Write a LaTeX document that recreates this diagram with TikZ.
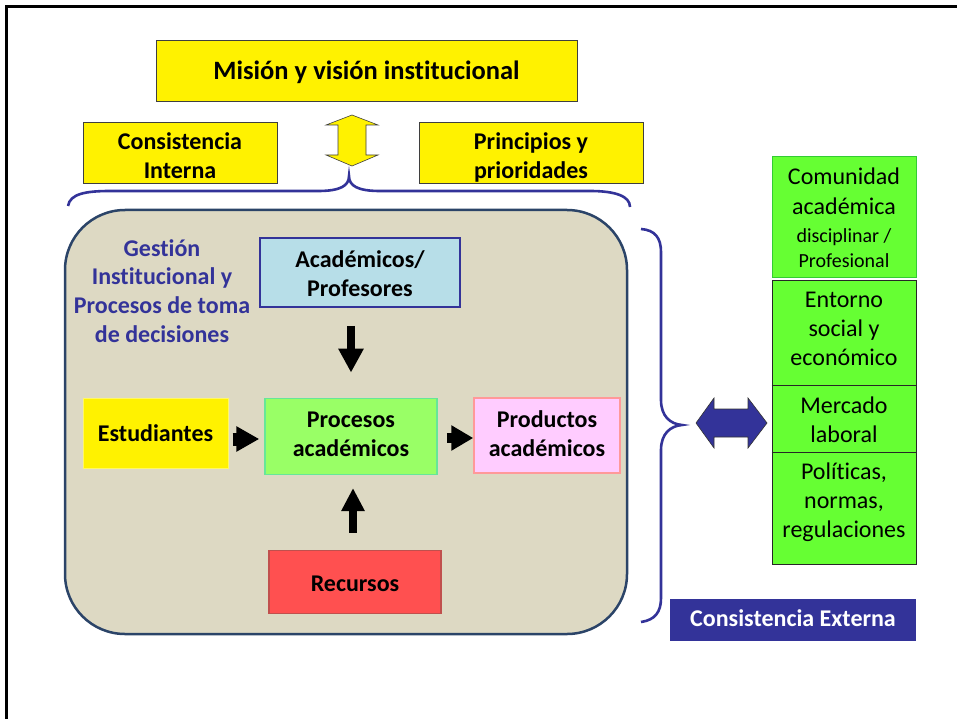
\documentclass[tikz,border=0pt]{standalone}
\usepackage{fontspec}
\setmainfont[Ligatures=NoCommon]{Carlito}
\usetikzlibrary{arrows.meta}
\definecolor{navy}{HTML}{333399}
\definecolor{beige}{HTML}{DDD9C3}
\definecolor{frameblue}{HTML}{2B4468}
\definecolor{lblue}{HTML}{B7DEE8}
\definecolor{lgreen}{HTML}{99FF66}
\definecolor{lgreenb}{HTML}{66E699}
\definecolor{pink}{HTML}{FFCCFF}
\definecolor{pinkb}{HTML}{FF9999}
\definecolor{red1}{HTML}{FF5050}
\definecolor{red1b}{HTML}{C0504D}
\definecolor{vgreen}{HTML}{66FF33}
\definecolor{vgreenb}{HTML}{33CC33}
\definecolor{ybord}{HTML}{3F3F3F}
\newcommand\tbx[2]{\raisebox{-#1}[\height][\depth]{\begin{tabular}{@{}c@{}}#2\end{tabular}}}
\tikzset{
  bx/.style={inner sep=0pt, font=\fontsize{24}{29}\selectfont\bfseries},
  rx/.style={inner sep=0pt, font=\fontsize{24}{29}\selectfont},
  brace/.style={draw=navy, line width=2.6pt}
}
\begin{document}
\begin{tikzpicture}[x=1pt,y=-1pt]
\useasboundingbox (0,0) rectangle (957,719);
\fill[white] (0,0) rectangle (957,719);
% slide frame
\draw[line width=2.5pt] (6.5,719) -- (6.5,6.5) -- (957,6.5);

% top boxes
\node[bx, fill=yellow, draw=ybord, line width=0.8pt, minimum width=421pt, minimum height=61pt,
  font=\fontsize{26.5}{32}\selectfont\bfseries] (mision) at (366.5,70.5) {\tbx{3pt}{Misión y visión institucional}};
\node[bx, fill=yellow, draw=ybord, line width=0.8pt, minimum width=194pt, minimum height=61pt] (cint) at (180,152.5) {\tbx{5.5pt}{Consistencia\\Interna}};
\node[bx, fill=yellow, draw=ybord, line width=0.8pt, minimum width=224pt, minimum height=61pt] (prin) at (531,153) {\tbx{4.8pt}{Principios y\\prioridades}};

% yellow double arrow
\filldraw[fill=yellow, draw=ybord, line width=0.6pt]
  (352,115) -- (378,125) -- (366,125) -- (366,155) -- (378,155) -- (352,166)
  -- (326,155) -- (338,155) -- (338,125) -- (326,125) -- cycle;

% top brace
\draw[brace] (68,206) .. controls (70,194) and (85,191) .. (110,191) -- (318,191)
  .. controls (340,191) and (349,186) .. (349,176)
  .. controls (349,186) and (358,191) .. (380,191) -- (590,191)
  .. controls (615,191) and (630,196) .. (630,207);

% big rounded container
\node[draw=frameblue, fill=beige, line width=2.5pt, rounded corners=60pt,
  minimum width=562pt, minimum height=424pt, inner sep=0pt] (cont) at (346,422) {};

\node[bx, text=navy, font=\fontsize{24}{28.7}\selectfont\bfseries] (gest) at (162,292.5) {\tbx{1pt}{Gestión\\Institucional y\\Procesos de toma\\de decisiones}};

\node[bx, fill=lblue, draw=navy, line width=1.5pt, minimum width=200pt, minimum height=69pt] (acad) at (360,272.5) {\tbx{3.5pt}{Académicos/\\Profesores}};
\node[bx, fill=yellow, draw=yellow!60!white, line width=1pt, minimum width=145pt, minimum height=70pt] (est) at (155.5,433.3) {\tbx{2.8pt}{Estudiantes}};
\node[bx, fill=lgreen, draw=lgreenb, line width=1.5pt, minimum width=172pt, minimum height=76pt] (proc) at (351,436.3) {\tbx{0pt}{Procesos\\académicos}};
\node[bx, fill=pink, draw=pinkb, line width=1.5pt, minimum width=146pt, minimum height=75pt] (prod) at (547,435.5) {\tbx{0.5pt}{Productos\\académicos}};
\node[bx, fill=red1, draw=red1b, line width=1.5pt, minimum width=172pt, minimum height=63pt] (rec) at (355,582) {\tbx{4pt}{Recursos}};

% block arrows
\draw[line width=7.5pt, -{Triangle[width=24pt,length=24pt]}, shorten <=18pt, shorten >=25pt]
  (acad.south -| proc.north) -- (proc.north);
\draw[line width=13pt, -{Triangle[width=24pt,length=23pt]}, shorten <=4pt, shorten >=5pt]
  (est.east |- 0,439) -- (proc.west |- 0,439);
\draw[line width=10pt, -{Triangle[width=24pt,length=22pt]}, shorten <=9pt, shorten >=0pt]
  (proc.east |- 0,438) -- (prod.west |- 0,438);
\draw[line width=8pt, -{Triangle[width=22pt,length=23pt]}, shorten <=17pt, shorten >=13pt]
  (rec.north -| 353,0) -- (proc.south -| 353,0);

% right brace
\draw[brace] (641,229) .. controls (655,230) and (661,238) .. (661,252) -- (661,400)
  .. controls (661,416) and (670,424) .. (682,425)
  .. controls (670,426) and (661,434) .. (661,450) -- (661,598)
  .. controls (661,612) and (655,620) .. (641,622);

% blue double arrow
\filldraw[fill=navy, draw=black!80, line width=0.6pt]
  (696,423) -- (714,398) -- (714,409) -- (748,409) -- (748,398) -- (767,423)
  -- (748,448) -- (748,437) -- (714,437) -- (714,448) -- cycle;

% right column
\node[rx, fill=vgreen, draw=vgreenb, line width=1pt, minimum width=144pt, minimum height=120pt,
  font=\fontsize{24}{30}\selectfont] (com) at (844,217)
  {\tbx{3pt}{Comunidad\\académica\\[-2pt]{\fontsize{20}{25}\selectfont disciplinar /}\\[-5pt]{\fontsize{20}{25}\selectfont Profesional}}};
\node[fill=vgreen, draw=black!85, line width=1pt, minimum width=144pt, minimum height=284pt, inner sep=0pt] (ext) at (844,422) {};
\draw[black!85, line width=1pt] (ext.west |- 0,385) -- (ext.east |- 0,385);
\draw[black!85, line width=1pt] (ext.west |- 0,452) -- (ext.east |- 0,452);
\node[rx] (ent) at (844,328) {\tbx{2.5pt}{Entorno\\social y\\económico}};
\node[rx] (merc) at (844,420) {\tbx{2pt}{Mercado\\laboral}};
\node[rx] (pol) at (844,500) {\tbx{2.8pt}{Políticas,\\normas,\\regulaciones}};

\node[bx, fill=navy, text=white, minimum width=246pt, minimum height=42pt] (cext) at (793,619.5) {\tbx{1.5pt}{Consistencia Externa}};
\end{tikzpicture}
\end{document}
